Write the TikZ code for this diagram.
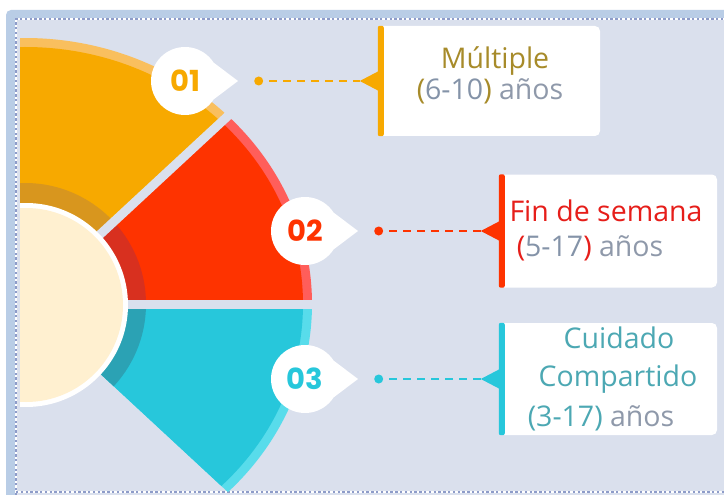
\documentclass[tikz,border=0pt]{standalone}
\usepackage{fontspec}
\setmainfont{Open Sans}
\newfontfamily\numfont{Poppins}
\usetikzlibrary{positioning}
\definecolor{bgcol}{HTML}{DAE0ED}
\definecolor{framecol}{HTML}{B9CDE6}
\definecolor{dotcol}{HTML}{8E9CC9}
\definecolor{ormain}{HTML}{F7A900}
\definecolor{orrim}{HTML}{F9BF5E}
\definecolor{ordark}{HTML}{D8961E}
\definecolor{rdmain}{HTML}{FE3300}
\definecolor{rdrim}{HTML}{FF5E5A}
\definecolor{rddark}{HTML}{D8301F}
\definecolor{cymain}{HTML}{27C7DB}
\definecolor{cyrim}{HTML}{58DCEB}
\definecolor{cydark}{HTML}{2BA2B4}
\definecolor{cream}{HTML}{FFF0D0}
\definecolor{olive}{HTML}{A78B2A}
\definecolor{digitgray}{HTML}{8493A8}
\definecolor{anosgray}{HTML}{8F99AA}
\definecolor{txtred}{HTML}{E61E1A}
\definecolor{txtteal}{HTML}{4CA8B3}
\tikzset{
  bubble/.style={circle, fill=white, minimum size=68pt, inner sep=0pt, font=\numfont\bfseries\fontsize{29}{29}\selectfont},
  dotnode/.style={circle, minimum size=9pt, inner sep=0pt},
  dashline/.style={line width=2.2pt, dash pattern=on 8pt off 6pt, dash phase=8pt},
  infobox/.style={fill=white, rounded corners=5pt, inner sep=0pt},
  boxtext/.style={anchor=base, inner sep=0pt, font=\fontsize{28.5}{28.5}\selectfont},
}
\begin{document}
\begin{tikzpicture}[x=1pt,y=-1pt]
\useasboundingbox (0,0) rectangle (724,495);
\fill[white] (0,0) rectangle (724,495);
\fill[framecol, rounded corners=5pt] (6,10) rectangle (740,510);
\fill[bgcol] (15,18) rectangle (724,495);
\draw[white, line width=2.4pt] (16,495) -- (16,19) -- (724,19);
\draw[dotcol, line width=2.4pt, dash pattern=on 2.4pt off 2.4pt] (16,495) -- (16,19) -- (724,19);
\draw[white, line width=2.4pt] (16,492) -- (724,492);
\draw[dotcol, line width=2.4pt, dash pattern=on 2.4pt off 2.4pt] (16,492) -- (724,492);

\coordinate (c) at (25,304);
\begin{scope}
\clip (20,20) rectangle (724,491);
\foreach \sa/\ea/\rim/\main/\dark in {-45/-180/orrim/ormain/ordark, 0/-45/rdrim/rdmain/rddark, 45/0/cyrim/cymain/cydark}{
  \begin{scope}
  \clip (c) -- ++(\sa:287 and 266) arc[start angle=\sa, end angle=\ea, x radius=287, y radius=266] -- cycle;
  \fill[\rim] (0,0) rectangle (724,495);
  \fill[\main] (c) circle[x radius=278, y radius=257];
  \fill[\dark] (c) circle[radius=121];
  \end{scope}
}
\draw[bgcol, line width=9pt] (c) -- ++(-45:300 and 278);
\draw[bgcol, line width=9pt] (c) -- ++(0:300);
\fill[white] (26,305) circle[radius=102];
\fill[cream] (26,305) circle[radius=97];
\end{scope}

\node[infobox, minimum width=222pt, minimum height=110pt] (box1) at (489,81) {};
\node[infobox, minimum width=218pt, minimum height=113pt] (box2) at (608,231) {};
\node[infobox, minimum width=218pt, minimum height=112pt] (box3) at (608,379) {};

\foreach \i/\bx/\col in {1/185/ormain, 2/305/rdmain, 3/305/cymain}{
  \node[bubble, text=\col] (b\i) at (\bx,0 |- box\i.center) {0\i};
  \coordinate (p\i) at ([xshift=53pt]b\i.center);
  \fill[white] (b\i.32) -- (p\i) -- (b\i.-32) -- cycle;
  \node[dotnode, fill=\col, right=16pt of p\i] (d\i) {};
  \coordinate (t\i) at ([xshift=-18pt]box\i.west);
  \draw[dashline, \col] (d\i) -- (t\i);
  \fill[\col, rounded corners=2pt] (box\i.north west) rectangle ([xshift=6pt]box\i.south west);
  \fill[\col] ([yshift=11pt,xshift=3pt]box\i.west) -- (t\i) -- ([yshift=-11pt,xshift=3pt]box\i.west) -- cycle;
}

\node[boxtext, text=olive] (m1) at (495,69) {Múltiple};
\node[boxtext] (m2) at (490,100) {\textcolor{olive}{(}\textcolor{digitgray}{6-10}\textcolor{olive}{)} \textcolor{anosgray}{años}};
\node[boxtext, text=txtred] (f1) at (606,221) {Fin de semana};
\node[boxtext] (f2) at (590,256) {\textcolor{txtred}{(}\textcolor{digitgray}{5-17}\textcolor{txtred}{)} \textcolor{anosgray}{años}};
\node[boxtext, text=txtteal] (c1) at (619,348) {Cuidado};
\node[boxtext, text=txtteal] (c2) at (618,386) {Compartido};
\node[boxtext] (c3) at (601,426) {\textcolor{txtteal}{(3-17)} \textcolor{anosgray}{años}};
\end{tikzpicture}
\end{document}
